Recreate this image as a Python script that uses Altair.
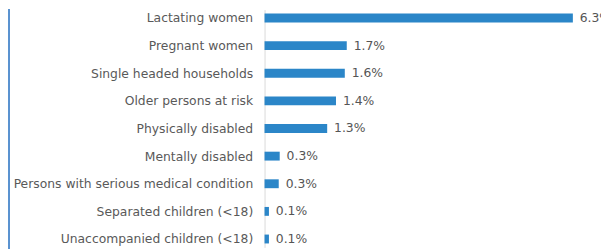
import altair as alt
import pandas as pd

categories = [
    "Lactating women",
    "Pregnant women",
    "Single headed households",
    "Older persons at risk",
    "Physically disabled",
    "Mentally disabled",
    "Persons with serious medical condition",
    "Separated children (<18)",
    "Unaccompanied children (<18)",
]
values = [6.3, 1.7, 1.6, 1.4, 1.3, 0.3, 0.3, 0.1, 0.1]
bar_lengths = [6.3, 1.68, 1.64, 1.46, 1.28, 0.31, 0.29, 0.09, 0.09]

df = pd.DataFrame({"cat": categories, "val": values, "len": bar_lengths})
df["lab"] = [f"{v:.1f}%" for v in values]

FONT = "DejaVu Sans"
W, H = 341, 241

y = alt.Y("cat:N", sort=categories,
          scale=alt.Scale(type="point", padding=0.3036),
          axis=alt.Axis(title=None, ticks=False, labelPadding=12, labelFontSize=12.5,
                        labelFont=FONT, labelColor="#595959", domainColor="#d9d9d9",
                        grid=False, labelLimit=300))
x = alt.X("len:Q", scale=alt.Scale(domain=[0, W / 49.6], nice=False, zero=True), axis=None)

bars = alt.Chart(df).mark_bar(size=9, color="#2B86C8").encode(x=x, y=y)
text = alt.Chart(df).mark_text(align="left", baseline="middle", dx=7, fontSize=12.5,
                               font=FONT, color="#555555").encode(x=x, y=y, text="lab:N")
edge = alt.Chart(df).mark_rule(color="#5B93D0", strokeWidth=2).encode(
    x=alt.value(-259), y=alt.value(0), y2=alt.value(H + 20))

chart = alt.layer(edge, bars, text).properties(
    width=W, height=H,
    autosize=alt.AutoSizeParams(type="none"),
    padding={"left": 260, "top": 0, "right": 0, "bottom": 0},
).configure_view(stroke=None)

chart.save("out.html", embed_options={"renderer": "svg", "actions": False})
